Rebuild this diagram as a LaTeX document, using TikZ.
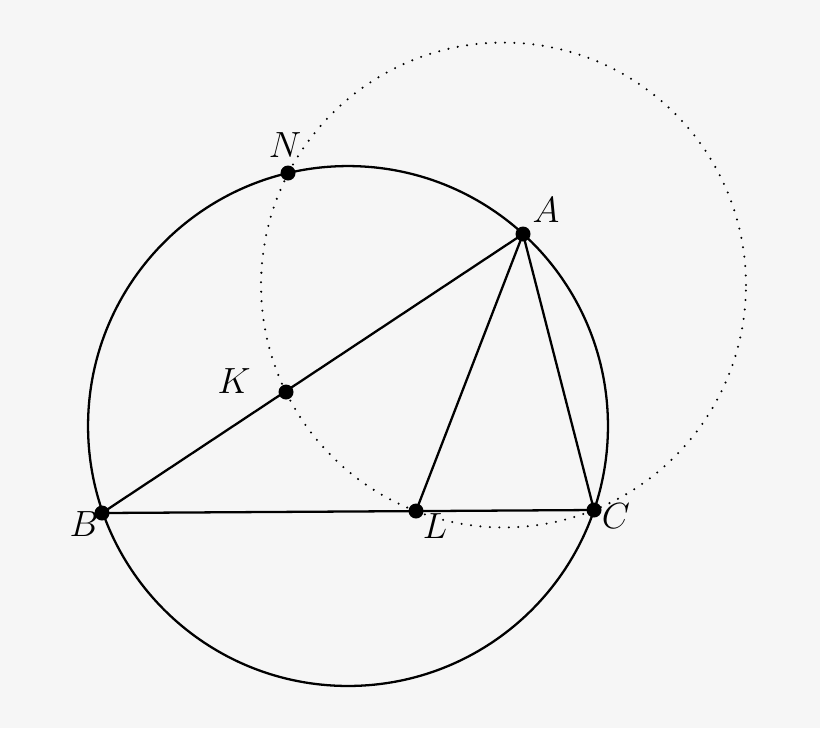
\documentclass[tikz,border=0pt]{standalone}
\begin{document}
\begin{tikzpicture}[x=0.02cm,y=-0.02cm,
  pt/.style={circle,fill=black,inner sep=0pt,minimum size=0.3cm},
  lab/.style={font=\fontsize{21}{24}\selectfont},
  seg/.style={line width=1.3pt},
  dotc/.style={line width=1.3pt,line cap=round,dash pattern=on 0pt off 5.4pt}]
\fill[fill={rgb,255:red,246;green,246;blue,246}] (0,0) rectangle (820,728);
\useasboundingbox (0,0) rectangle (820,728);
\coordinate (O1) at (348,426);
\coordinate (O2) at (503.5,285);
\draw[seg] (O1) circle[radius=5.2cm];
\draw[dotc] (O2) circle[radius=4.85cm];
\node[pt] (B) at (102,513) {};
\node[pt] (C) at (594,510) {};
\node[pt] (A) at (523,234) {};
\node[pt] (L) at (416,511) {};
\node[pt] (K) at (286,392) {};
\node[pt] (N) at (288,173) {};
\draw[seg] (B.center) -- (A.center) -- (C.center) -- (B.center);
\draw[seg] (A.center) -- (L.center);
\node[lab] (lA) at (546,210) {$A$};
\node[lab] (lB) at (84,524) {$B$};
\node[lab] (lC) at (616,516) {$C$};
\node[lab] (lL) at (435,526) {$L$};
\node[lab] (lK) at (234,381) {$K$};
\node[lab] (lN) at (285,145) {$N$};
\end{tikzpicture}
\end{document}
